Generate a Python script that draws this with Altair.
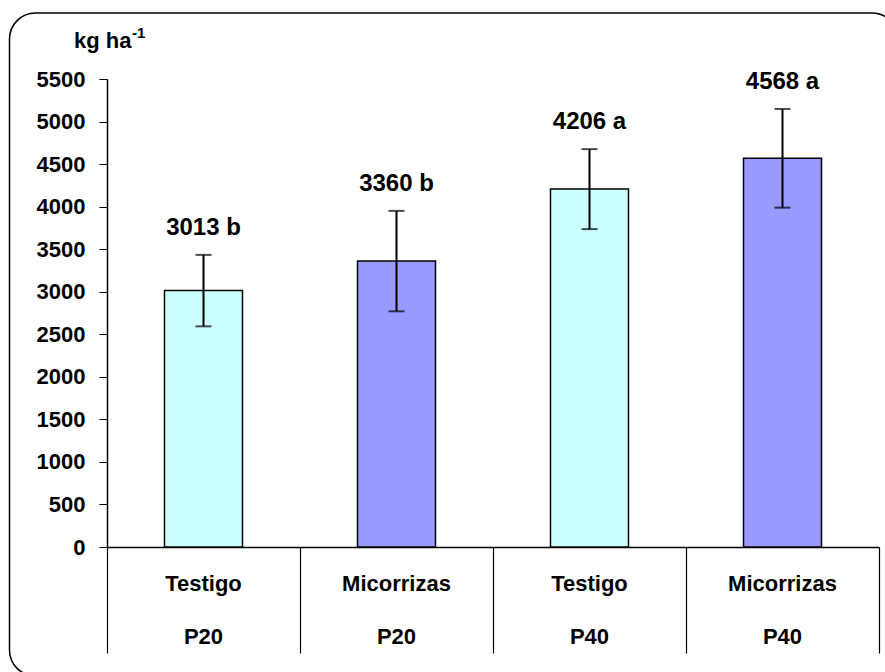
import altair as alt
import pandas as pd

# Rendimiento de grano (kg/ha) por tratamiento y nivel de fósforo
tratamiento = ["Testigo", "Micorrizas", "Testigo", "Micorrizas"]
fosforo = ["P20", "P20", "P40", "P40"]
rendimiento = [3013, 3360, 4206, 4568]
desvio = [420, 590, 470, 580]
letra = ["b", "b", "a", "a"]

colores = {"Testigo": "#CCFFFF", "Micorrizas": "#9999FF"}

df = pd.DataFrame({
    "tratamiento": tratamiento,
    "fosforo": fosforo,
    "rendimiento": rendimiento,
    "desvio": desvio,
    "letra": letra,
})
df["id"] = df["tratamiento"] + " " + df["fosforo"]
df["etiqueta"] = df["rendimiento"].astype(str) + " " + df["letra"]
orden = list(df["id"])

FONT = "Liberation Sans"
W, H = 772, 468

x = alt.X(
    "id:N",
    sort=orden,
    scale=alt.Scale(paddingInner=0, paddingOuter=0),
    axis=alt.Axis(
        title=None, labels=False, tickBand="extent", tickSize=106,
        tickColor="black", domainColor="black", tickWidth=1.2, domainWidth=1.5,
    ),
)
y_scale = alt.Scale(domain=[0, 5500], nice=False, zero=True)

base = alt.Chart(df)

barras = base.mark_bar(stroke="black", strokeWidth=1.5, size=78).encode(
    x=x,
    y=alt.Y(
        "rendimiento:Q",
        scale=y_scale,
        axis=alt.Axis(
            title=None, values=list(range(0, 5501, 500)), grid=False, format="d",
            tickSize=8, tickColor="black", domainColor="black", domainWidth=1.5,
            labelFont=FONT, labelFontWeight="bold", labelFontSize=22,
            labelColor="black", labelPadding=14,
        ),
    ),
    color=alt.Color(
        "tratamiento:N",
        scale=alt.Scale(domain=list(colores), range=list(colores.values())),
        legend=None,
    ),
)

err = base.transform_calculate(
    lo="datum.rendimiento - datum.desvio",
    hi="datum.rendimiento + datum.desvio",
)

linea_err = err.mark_rule(color="black", strokeWidth=2).encode(
    x=alt.X("id:N", sort=orden),
    y=alt.Y("lo:Q", scale=y_scale),
    y2="hi:Q",
)
tope_sup = err.mark_tick(color="black", thickness=2, size=16).encode(
    x=alt.X("id:N", sort=orden), y=alt.Y("hi:Q", scale=y_scale)
)
tope_inf = err.mark_tick(color="black", thickness=2, size=16).encode(
    x=alt.X("id:N", sort=orden), y=alt.Y("lo:Q", scale=y_scale)
)

valores = err.mark_text(
    font=FONT, fontWeight="bold", fontSize=24, color="black",
    baseline="alphabetic", dy=-20,
).encode(
    x=alt.X("id:N", sort=orden),
    y=alt.Y("hi:Q", scale=y_scale),
    text="etiqueta:N",
)

# Tabla de categorías bajo el eje
fila1 = base.mark_text(font=FONT, fontWeight="bold", fontSize=22, color="black",
                       baseline="middle").encode(
    x=alt.X("id:N", sort=orden), y=alt.value(505), text="tratamiento:N"
)
fila2 = base.mark_text(font=FONT, fontWeight="bold", fontSize=22, color="black",
                       baseline="middle").encode(
    x=alt.X("id:N", sort=orden), y=alt.value(558), text="fosforo:N"
)

# Unidad del eje vertical
uno = pd.DataFrame({"t": ["kg ha"], "s": ["-1"]})
unidad = alt.Chart(uno).mark_text(
    font=FONT, fontWeight="bold", fontSize=22, color="black",
    align="left", baseline="alphabetic",
).encode(x=alt.value(-33), y=alt.value(-31), text="t:N")
exponente = alt.Chart(uno).mark_text(
    font=FONT, fontWeight="bold", fontSize=15, color="black",
    align="left", baseline="alphabetic",
).encode(x=alt.value(25), y=alt.value(-41), text="s:N")

# Marco redondeado del gráfico
marco = alt.Chart(uno).mark_rect(
    fill="white", fillOpacity=0, stroke="black", strokeWidth=1.5, cornerRadius=26
).encode(
    x=alt.value(-97.5), x2=alt.value(791), y=alt.value(-66), y2=alt.value(597)
)

chart = alt.layer(
    marco, barras, linea_err, tope_sup, tope_inf, valores, fila1, fila2, unidad, exponente
).properties(
    width=W, height=H,
    autosize=alt.AutoSizeParams(type="none"),
    padding={"left": 107, "top": 79, "right": 6, "bottom": 125},
    background="white",
).configure_view(stroke=None)

chart.save("out.html", embed_options={"renderer": "svg", "actions": False})
